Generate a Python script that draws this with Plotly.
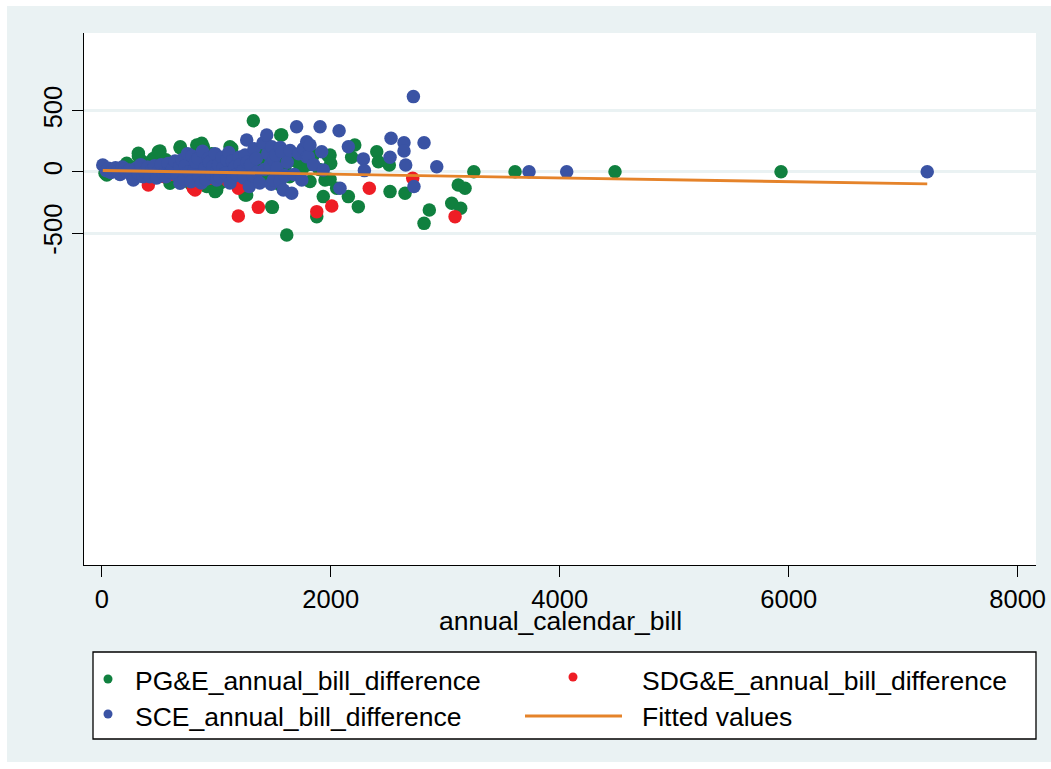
import plotly.graph_objects as go

# ---------------- data ----------------
pge_x = [44, 29, 120, 150, 218, 260, 300, 320, 320, 350, 380, 430, 450, 480, 494, 509, 540, 560, 596, 620,
         650, 684, 686, 700, 750, 780, 800, 830, 858, 860, 873, 887, 900, 917, 940, 960, 990, 1000, 1004, 1033,
         1050, 1080, 1100, 1120, 1135, 1180, 1200, 1230, 1252, 1266, 1300, 1324, 1350, 1380, 1400, 1426, 1450,
         1485, 1490, 1500, 1520, 1550, 1563, 1572, 1600, 1616, 1640, 1650, 1700, 1703, 1750, 1800, 1819, 1850,
         1878, 1900, 1935, 1950, 1979, 1994, 1994, 2000, 2052, 2154, 2183, 2210, 2241, 2402, 2416, 2512, 2518,
         2649, 2815, 2861, 3057, 3114, 3135, 3173, 3250, 3610, 4483, 5933]
pge_y = [-25, -11, 20, -10, 71, 40, -40, 131, 153, 90, 60, -50, 110, -30, 166, 172, 50, 100, -93, -60,
         70, 199, 207, -50, 140, -100, 60, 221, 221, -80, 235, 207, 100, -120, -60, 150, -161, 40, -148, -93,
         -30, 120, 60, 207, 193, -40, 100, -80, -189, -189, 30, 420, -60, 150, 80, 235, -60,
         -284, -290, -20, 100, -100, 303, 303, 40, -516, -40, 130, -20, 84, 20, 60, -79, 140,
         -366, 20, -202, -66, 131, 139, -60, 70, -134, -202, 120, 221, -284, 166, 84, 57, -161,
         -175, -421, -311, -257, -107, -298, -134, 2, 2, 2, 2]

sdge_x = [407, 407, 450, 538, 600, 700, 800, 815, 830, 950, 1100, 1193, 1193, 1208, 1368, 1878, 2009, 2337,
          2716, 3086]
sdge_y = [-66, -107, -50, -38, -20, -40, -134, -148, -120, -50, -70, -134, -361, -120, -290, -325, -279, -134,
          -52, -366]

sce_x = [9, 40, 60, 80, 100, 120, 140, 160, 180, 200, 220, 240, 260, 276, 300, 320, 340, 360, 380, 400,
         420, 440, 460, 480, 500, 520, 540, 560, 580, 600, 620, 640, 660, 680, 684, 700, 720, 730, 750, 760,
         780, 790, 810, 820, 840, 850, 870, 880, 900, 910, 930, 940, 960, 970, 990, 1000, 1004, 1020, 1030,
         1050, 1060, 1080, 1092, 1110, 1120, 1140, 1149, 1160, 1180, 1200, 1210, 1230, 1240, 1252, 1266, 1270,
         1289, 1300, 1320, 1330, 1350, 1360, 1380, 1409, 1420, 1441, 1450, 1470, 1480, 1485, 1499, 1500, 1520,
         1530, 1557, 1560, 1572, 1586, 1600, 1620, 1645, 1659, 1680, 1702, 1720, 1747, 1760, 1790, 1790, 1805,
         1819, 1850, 1907, 1921, 1935, 2073, 2081, 2154, 2285, 2294, 2518, 2527, 2640, 2640, 2655, 2722, 2727,
         2815, 2926, 3732, 4061, 7210]
sce_y = [57, 10, 30, -5, 20, 35, 10, -20, 40, 25, 0, 15, -30, -66, 30, -10, 60, -40, 0, 40,
         -40, 20, 50, -50, 10, 60, -20, -40, 70, 0, 30, 90, -30, 40, -93, 100, -60, 50, 150, 0,
         -80, 130, 20, 80, 110, -40, -90, 170, 30, -60, 110, 80, -20, 40, 150, 0, -66, 60, -40,
         120, 30, -10, 98, 160, -90, 90, -38, 40, -20, 120, 60, 10, -50, 139, 262, 80,
         -120, 60, -30, 190, 110, 0, -90, 238, 20, 303, 150, 57, -100, 207, -66, 100, 140,
         30, -79, 200, 166, -148, -30, 80, 175, -175, -20, 371, 150, -66, 190, 248, 125, 125,
         221, 60, 371, 166, 16, 337, -134, 207, 107, 11, 120, 276, 240, 172, 57, 617, -120,
         240, 43, 2, 2, 2]

fit_x = [9, 7210]
fit_y = [12, -98]

x_ticks = [0, 2000, 4000, 6000, 8000]
y_ticks = [-500, 0, 500]
y_tick_text = ["-500", "0", "500"]

legend_labels = ["PG&E_annual_bill_difference", "SDG&E_annual_bill_difference",
                 "SCE_annual_bill_difference", "Fitted values"]
x_title = "annual_calendar_bill"

# ---------------- style ----------------
GREEN = "#10803F"
RED = "#EE1D25"
BLUE = "#3A53A4"
ORANGE = "#E5832A"
BG = "#EAF2F3"
FONT = "Liberation Sans, Arial, sans-serif"

W, H = 1051, 769
L, R, T, B = 84, 15, 33, 204
PW, PH = W - L - R, H - T - B


def fx(px):
    return (px - L) / PW


def fy(py):
    return (H - B - py) / PH


fig = go.Figure()
mk = dict(size=13.5, line=dict(width=0))
fig.add_trace(go.Scatter(x=pge_x, y=pge_y, mode="markers", name=legend_labels[0],
                         marker=dict(color=GREEN, **mk)))
fig.add_trace(go.Scatter(x=sdge_x, y=sdge_y, mode="markers", name=legend_labels[1],
                         marker=dict(color=RED, **mk)))
fig.add_trace(go.Scatter(x=sce_x, y=sce_y, mode="markers", name=legend_labels[2],
                         marker=dict(color=BLUE, **mk)))
fig.add_trace(go.Scatter(x=fit_x, y=fit_y, mode="lines", name=legend_labels[3],
                         line=dict(color=ORANGE, width=2.8)))

shapes = [
    # graph region background
    dict(type="rect", xref="paper", yref="paper", x0=fx(7), x1=fx(1052), y0=fy(762), y1=fy(6),
         fillcolor=BG, line=dict(width=0), layer="below"),
    # plot region
    dict(type="rect", xref="paper", yref="paper", x0=0, x1=1, y0=0, y1=1,
         fillcolor="white", line=dict(width=0), layer="below"),
    # legend box
    dict(type="rect", xref="paper", yref="paper", x0=fx(93), x1=fx(1036), y0=fy(739), y1=fy(652),
         fillcolor="white", line=dict(color="black", width=1.3), layer="below"),
]


def dot(cx, cy, color, r=4.5):
    return dict(type="circle", xref="paper", yref="paper", x0=fx(cx - r), x1=fx(cx + r),
                y0=fy(cy + r), y1=fy(cy - r), fillcolor=color, line=dict(width=0))


shapes += [dot(108, 679, GREEN), dot(573, 677, RED), dot(108, 714, BLUE),
           dict(type="line", xref="paper", yref="paper", x0=fx(525), x1=fx(622), y0=fy(716), y1=fy(716),
                line=dict(color=ORANGE, width=2.8))]

annotations = []
for (px, py), txt in zip([(133, 681), (640, 681), (133, 717), (640, 717)], legend_labels):
    annotations.append(dict(xref="paper", yref="paper", x=fx(px), y=fy(py), text=txt, showarrow=False,
                            xanchor="left", yanchor="middle", font=dict(size=26.5, color="black", family=FONT)))
annotations.append(dict(xref="paper", yref="paper", x=fx(560), y=fy(621), text=x_title, showarrow=False,
                        xanchor="center", yanchor="middle", font=dict(size=26.5, color="black", family=FONT)))

fig.update_layout(
    width=W, height=H, autosize=False,
    margin=dict(l=L, r=R, t=T, b=B, pad=0, autoexpand=False),
    paper_bgcolor="white", plot_bgcolor="rgba(0,0,0,0)",
    showlegend=False,
    font=dict(family=FONT, size=25.5, color="black"),
    shapes=shapes, annotations=annotations,
    xaxis=dict(range=[-155, 8160], tickvals=x_ticks, ticks="outside", ticklen=11, tickwidth=1.3,
               tickcolor="black", showline=True, linecolor="black", linewidth=1.3, showgrid=False,
               zeroline=False, tickfont=dict(size=25.5), automargin=False),
    yaxis=dict(range=[-3219, 1138], tickvals=y_ticks, ticktext=y_tick_text, ticks="outside", ticklen=11,
               tickwidth=1.3, tickcolor="black", showline=True, linecolor="black", linewidth=1.3,
               showgrid=True, gridcolor=BG, gridwidth=2.5, zeroline=False, tickangle=-90,
               tickfont=dict(size=25.5), automargin=False),
)

fig.write_html(
    "out.html",
    config={"responsive": False, "displayModeBar": False},
    post_script="document.body.style.margin='0';document.body.style.padding='0';"
                "document.documentElement.style.overflow='hidden';",
)
